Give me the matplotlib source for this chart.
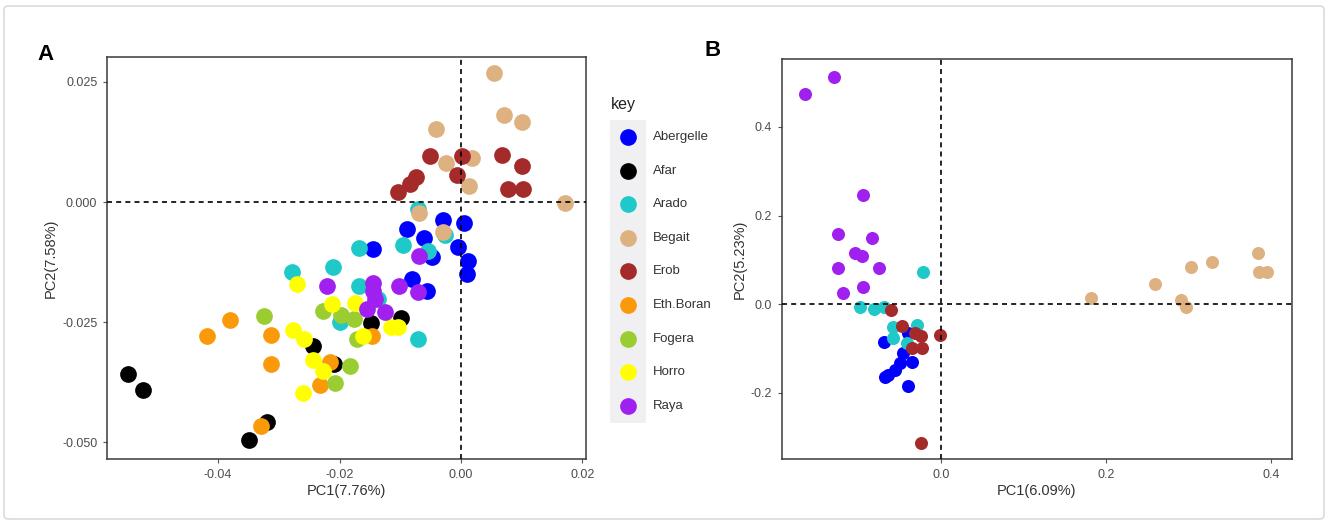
import matplotlib.pyplot as plt
from matplotlib.patches import FancyBboxPatch, Rectangle

plt.rcParams["font.family"] = ["Liberation Sans", "DejaVu Sans"]

# ---- panel A: PC1 / PC2 scores, all nine breeds ----
A_ABERGELLE = [(-0.0030, -0.0038), (0.0005, -0.0044), (-0.0089, -0.0056), (-0.0061, -0.0075),
               (-0.0005, -0.0094), (-0.0145, -0.0098), (-0.0048, -0.0115), (0.0012, -0.0123),
               (0.0010, -0.0150), (-0.0081, -0.0160), (-0.0056, -0.0185)]
A_AFAR = [(-0.0548, -0.0358), (-0.0523, -0.0392), (-0.0319, -0.0458), (-0.0349, -0.0496),
          (-0.0244, -0.0300), (-0.0209, -0.0338), (-0.0148, -0.0252), (-0.0099, -0.0242)]
A_ARADO = [(-0.0071, -0.0015), (-0.0026, -0.0069), (-0.0168, -0.0096), (-0.0095, -0.0090),
           (-0.0054, -0.0102), (-0.0211, -0.0135), (-0.0278, -0.0146), (-0.0168, -0.0175),
           (-0.0199, -0.0250), (-0.0137, -0.0202), (-0.0071, -0.0285)]
A_BEGAIT = [(0.0054, 0.0269), (0.0071, 0.0181), (0.0100, 0.0167), (-0.0041, 0.0152),
            (-0.0025, 0.0081), (0.0018, 0.0092), (0.0013, 0.0033), (0.0171, -0.0002),
            (-0.0069, -0.0023), (-0.0030, -0.0063)]
A_EROB = [(-0.0051, 0.0096), (0.0002, 0.0096), (-0.0007, 0.0056), (0.0067, 0.0098),
          (0.0100, 0.0075), (-0.0074, 0.0052), (-0.0084, 0.0038), (-0.0104, 0.0021),
          (0.0077, 0.0027), (0.0102, 0.0027)]
A_ETH_BORAN = [(-0.0418, -0.0279), (-0.0380, -0.0246), (-0.0313, -0.0277), (-0.0313, -0.0338),
               (-0.0329, -0.0467), (-0.0216, -0.0333), (-0.0232, -0.0381), (-0.0147, -0.0279)]
A_FOGERA = [(-0.0324, -0.0238), (-0.0227, -0.0227), (-0.0198, -0.0235), (-0.0176, -0.0244),
            (-0.0171, -0.0285), (-0.0183, -0.0342), (-0.0207, -0.0377)]
A_HORRO = [(-0.0270, -0.0171), (-0.0212, -0.0212), (-0.0174, -0.0210), (-0.0277, -0.0267),
           (-0.0258, -0.0285), (-0.0244, -0.0329), (-0.0227, -0.0352), (-0.0260, -0.0398),
           (-0.0161, -0.0279), (-0.0115, -0.0260), (-0.0104, -0.0260)]
A_RAYA = [(-0.0069, -0.0113), (-0.0221, -0.0175), (-0.0145, -0.0169), (-0.0145, -0.0185),
          (-0.0155, -0.0223), (-0.0125, -0.0229), (-0.0142, -0.0202), (-0.0102, -0.0175),
          (-0.0071, -0.0188)]

# ---- panel B: PC1 / PC2 scores, five breeds ----
B_ABERGELLE = [(-0.070, -0.086), (-0.040, -0.065), (-0.046, -0.110), (-0.035, -0.131),
               (-0.050, -0.133), (-0.056, -0.149), (-0.064, -0.160), (-0.068, -0.164),
               (-0.040, -0.185)]
B_ARADO = [(-0.022, 0.072), (-0.099, -0.007), (-0.082, -0.011), (-0.070, -0.007),
           (-0.059, -0.052), (-0.059, -0.077), (-0.029, -0.047), (-0.041, -0.088)]
B_BEGAIT = [(0.181, 0.013), (0.259, 0.045), (0.291, 0.009), (0.296, -0.006), (0.303, 0.083),
            (0.328, 0.095), (0.384, 0.115), (0.385, 0.073), (0.395, 0.073)]
B_EROB = [(-0.061, -0.014), (-0.047, -0.050), (-0.032, -0.065), (-0.025, -0.072),
          (-0.002, -0.070), (-0.035, -0.099), (-0.023, -0.099), (-0.025, -0.313)]
B_RAYA = [(-0.165, 0.473), (-0.130, 0.512), (-0.095, 0.246), (-0.125, 0.158), (-0.084, 0.149),
          (-0.104, 0.115), (-0.096, 0.108), (-0.125, 0.081), (-0.076, 0.081), (-0.095, 0.038),
          (-0.119, 0.025)]

BREEDS = ["Abergelle", "Afar", "Arado", "Begait", "Erob", "Eth.Boran", "Fogera", "Horro", "Raya"]
COLORS = ["#0000FF", "#000000", "#1FC9C9", "#DDB280", "#A52A2A", "#FA9A0A", "#9ACD32", "#FFFF00", "#A020F0"]

A_TICKS_X = [-0.04, -0.02, 0.00, 0.02]
A_TICKS_Y = [-0.050, -0.025, 0.000, 0.025]
B_TICKS_X = [0.0, 0.2, 0.4]
B_TICKS_Y = [-0.2, 0.0, 0.2, 0.4]

pca_a = dict(zip(BREEDS, [A_ABERGELLE, A_AFAR, A_ARADO, A_BEGAIT, A_EROB,
                          A_ETH_BORAN, A_FOGERA, A_HORRO, A_RAYA]))
pca_b = {"Abergelle": B_ABERGELLE, "Arado": B_ARADO, "Begait": B_BEGAIT,
         "Erob": B_EROB, "Raya": B_RAYA}
color_of = dict(zip(BREEDS, COLORS))

W, H = 1328, 525
fig = plt.figure(figsize=(W / 100, H / 100), dpi=100)


def px_axes(left, top, right, bottom, **kw):
    return fig.add_axes([left / W, 1 - bottom / H, (right - left) / W, (bottom - top) / H], **kw)


def style_panel(ax, xticks, yticks, xfmt, yfmt, xlabel, ylabel):
    ax.axhline(0, color="black", lw=1.2, ls=(0, (3, 2.5)), zorder=5)
    ax.axvline(0, color="black", lw=1.2, ls=(0, (3, 2.5)), zorder=5)
    ax.set_xticks(xticks)
    ax.set_yticks(yticks)
    ax.set_xticklabels([xfmt.format(v) for v in xticks])
    ax.set_yticklabels([yfmt.format(v) for v in yticks])
    ax.tick_params(length=3, width=0.8, color="#555555", labelsize=9,
                   labelcolor="#4D4D4D", pad=4)
    for s in ax.spines.values():
        s.set_color("#3A3A3A")
        s.set_linewidth(1.1)
    ax.set_xlabel(xlabel, fontsize=10.5, color="#333333", labelpad=2)
    ax.set_ylabel(ylabel, fontsize=10.5, color="#333333", labelpad=3)


# background layer: frame and legend, in pixel coordinates
bg = fig.add_axes([0, 0, 1, 1])
bg.set_xlim(0, W)
bg.set_ylim(H, 0)
bg.axis("off")
bg.add_patch(FancyBboxPatch((4, 6), W - 8, H - 12, boxstyle="round,pad=0,rounding_size=4",
                            fc="none", ec="#D4D4D4", lw=1))
bg.text(46, 55, "A", fontsize=16, fontweight="bold", ha="center", va="center")
bg.text(713, 50, "B", fontsize=16, fontweight="bold", ha="center", va="center")

bg.text(611, 105, "key", fontsize=11.5, color="#222222", ha="left", va="center")
bg.add_patch(Rectangle((610, 120), 36, 303, fc="#F0F0F2", ec="none"))
for i, name in enumerate(BREEDS):
    y = 137 + i * 33.6
    bg.scatter([628], [y], s=145, color=color_of[name], linewidths=0)
    bg.text(653, y, name, fontsize=9.5, color="#333333", ha="left", va="center")

# panel A
ax_a = px_axes(107, 57, 586, 459)
for name, pts in pca_a.items():
    xs, ys = zip(*pts)
    ax_a.scatter(xs, ys, s=145, color=color_of[name], linewidths=0, zorder=3)
ax_a.set_xlim(-0.0583, 0.0206)
ax_a.set_ylim(-0.0535, 0.0302)
style_panel(ax_a, A_TICKS_X, A_TICKS_Y, "{:.2f}", "{:.3f}", "PC1(7.76%)", "PC2(7.58%)")

# panel B
ax_b = px_axes(782, 59, 1292, 459)
for name, pts in pca_b.items():
    xs, ys = zip(*pts)
    ax_b.scatter(xs, ys, s=88, color=color_of[name], linewidths=0, zorder=3)
ax_b.set_xlim(-0.193, 0.425)
ax_b.set_ylim(-0.349, 0.553)
style_panel(ax_b, B_TICKS_X, B_TICKS_Y, "{:.1f}", "{:.1f}", "PC1(6.09%)", "PC2(5.23%)")

fig.savefig("out.png", dpi=100)
